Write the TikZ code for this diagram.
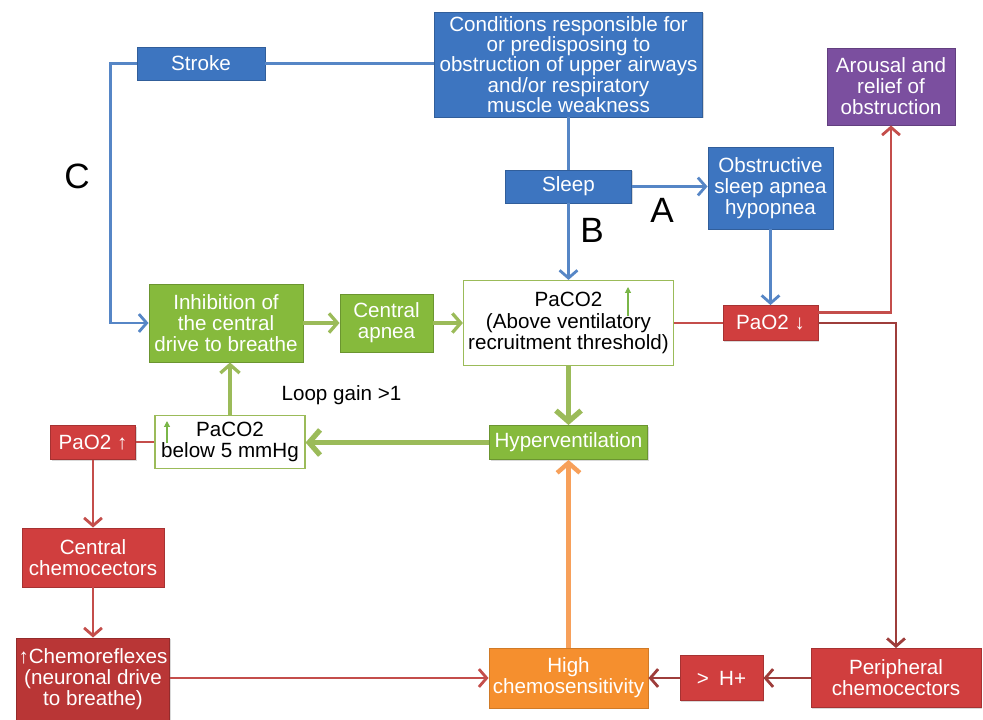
\documentclass[tikz,border=0pt]{standalone}
\usepackage{fontspec}
\setmainfont{Liberation Sans}
\usetikzlibrary{arrows.meta,shadows}

\definecolor{boxblue}{HTML}{3D75C0}
\definecolor{lineblue}{HTML}{5686C6}
\definecolor{boxgreen}{HTML}{86BA3C}
\definecolor{linegreen}{HTML}{9BBB59}
\definecolor{markgreen}{HTML}{7AB648}
\definecolor{boxred}{HTML}{D03E3E}
\definecolor{boxdarkred}{HTML}{B93636}
\definecolor{linered}{HTML}{C44E4B}
\definecolor{linedarkred}{HTML}{9E3D3B}
\definecolor{boxpurple}{HTML}{7B4F9F}
\definecolor{boxorange}{HTML}{F58F2E}
\definecolor{lineorange}{HTML}{F7A05A}

\begin{document}
\begin{tikzpicture}[x=0.03cm, y=-0.03cm,
    font=\fontsize{17.6}{18}\selectfont,
    chartbox/.style={rectangle, align=center, inner sep=1pt, text=white, line width=0.8pt,
      drop shadow={shadow xshift=1.2pt, shadow yshift=-1.2pt, opacity=0.3}},
    bluebox/.style={chartbox, fill=boxblue, draw=boxblue!80!black},
    greenbox/.style={chartbox, fill=boxgreen, draw=boxgreen!80!black},
    redbox/.style={chartbox, fill=boxred, draw=boxred!80!black},
    whitebox/.style={rectangle, align=center, inner sep=1pt, fill=white,
      draw=linegreen, line width=1pt, text=black},
    tag/.style={font=\fontsize{30}{30}\selectfont},
    barb/.style={-{Straight Barb[length=3.5pt 1.3, width=8pt 3]}},
    blueline/.style={draw=lineblue, line width=2.4pt},
    greenline/.style={draw=linegreen, line width=2.8pt},
    thickgreen/.style={draw=linegreen, line width=4.5pt},
    redline/.style={draw=linered, line width=2.4pt},
    darkredline/.style={draw=linedarkred, line width=2.4pt},
    orangeline/.style={draw=lineorange, line width=3.8pt},
    greenmark/.style={draw=markgreen, line width=1pt, -{Triangle[length=5pt, width=5pt]}}]
  \useasboundingbox (0,0) rectangle (983,719);

  % Top row: causes
  \node[bluebox, minimum width=8.04cm, minimum height=3.15cm,
    font=\fontsize{17.6}{16}\selectfont] (cond) at (568.5,64.5)
    {Conditions responsible for\\or predisposing to\\obstruction of upper airways\\and/or respiratory\\muscle weakness};
  \node[bluebox, minimum width=3.84cm, minimum height=0.99cm] (stroke) at (201,63.5) {Stroke};
  \node[bluebox, minimum width=3.78cm, minimum height=0.99cm] (sleep) at (568.5,186.5) {Sleep};
  \node[bluebox, minimum width=3.75cm, minimum height=2.46cm] (osa) at (770.5,188)
    {Obstructive\\sleep apnea\\hypopnea};
  \node[chartbox, fill=boxpurple, draw=boxpurple!80!black, minimum width=3.84cm,
    minimum height=2.31cm] (arousal) at (891,86.5) {Arousal and\\relief of\\obstruction};

  % Middle row: central apnea loop
  \node[greenbox, minimum width=4.62cm, minimum height=2.34cm] (inhib) at (226,323)
    {Inhibition of\\the central\\drive to breathe};
  \node[greenbox, minimum width=2.79cm, minimum height=1.74cm] (capnea) at (386.5,323)
    {Central\\apnea};
  \node[whitebox, minimum width=6.3cm, minimum height=2.55cm] (paco2) at (568.5,323)
    {PaCO2\\(Above ventilatory\\recruitment threshold)};
  \node[redbox, minimum width=2.85cm, minimum height=1.05cm] (pao2dn) at (770.5,323) {PaO2 ↓};
  \node[greenbox, minimum width=4.74cm, minimum height=1.02cm] (hyper) at (568.5,442.5)
    {Hyperventilation};
  \node[whitebox, minimum width=4.5cm, minimum height=1.59cm] (paco2lo) at (230,442)
    {PaCO2\\below 5 mmHg};
  \node[redbox, minimum width=2.55cm, minimum height=1.02cm] (pao2up) at (93,442.5) {PaO2 ↑};
  \node (loopgain) at (341.5,395) {Loop gain >1};

  % Bottom rows: chemoreceptors
  \node[redbox, minimum width=4.26cm, minimum height=1.77cm] (cchemo) at (93,557.5)
    {Central\\chemocectors};
  \node[chartbox, fill=boxdarkred, draw=boxdarkred!80!black, minimum width=4.59cm,
    minimum height=2.46cm] (chemoref) at (93,679)
    {↑Chemoreflexes\\(neuronal drive\\to breathe)};
  \node[chartbox, fill=boxorange, draw=boxorange!85!black, minimum width=4.77cm,
    minimum height=1.8cm] (highchemo) at (568.5,678) {High\\chemosensitivity};
  \node[redbox, minimum width=2.49cm, minimum height=1.35cm] (hplus) at (721.5,678) {>\enspace H+};
  \node[redbox, minimum width=5.1cm, minimum height=1.77cm] (periph) at (896,678)
    {Peripheral\\chemocectors};

  % Pathway letters
  \node[tag] (tagA) at (662,210) {A};
  \node[tag] (tagB) at (592,230) {B};
  \node[tag] (tagC) at (77,176) {C};

  % Small rising arrows beside PaCO2
  \draw[greenmark] (628,316) -- (628,287);
  \draw[greenmark] (167,443) -- (167,421);

  % Blue connectors
  \draw[blueline] (stroke.east -| cond.west) -- (stroke.east);
  \draw[blueline, barb] (stroke.west) -- ++(-26,0) |- (inhib.west);
  \draw[blueline] (cond.south) -- (sleep.north);
  \draw[blueline, barb] (sleep.south) -- (paco2.north);
  \draw[blueline, barb] (sleep.east) -- (sleep.east -| osa.west);
  \draw[blueline, barb] (osa.south) -- (pao2dn.north);

  % Green connectors
  \draw[greenline, barb] (inhib.east) -- (capnea.west);
  \draw[greenline, barb] (capnea.east) -- (paco2.west);
  \draw[thickgreen, barb] (paco2.south) -- (hyper.north);
  \draw[thickgreen, barb] (hyper.west) -- (hyper.west -| paco2lo.east);
  \draw[greenline, barb] (paco2lo.north) -- (paco2lo.north |- inhib.south);

  % Red connectors
  \draw[redline] (paco2.east) -- (pao2dn.west);
  \draw[redline, barb] ([yshift=0.31cm]pao2dn.east) -| (arousal.south);
  \draw[darkredline, barb] (pao2dn.east) -| (periph.north);
  \draw[redline] (paco2lo.west) -- (paco2lo.west -| pao2up.east);
  \draw[redline, barb] (pao2up.south) -- (cchemo.north);
  \draw[redline, barb] (cchemo.south) -- (chemoref.north);
  \draw[redline, barb] (chemoref.east |- highchemo.west) -- (highchemo.west);
  \draw[darkredline, barb] (periph.west) -- (hplus.east);
  \draw[darkredline, barb] (hplus.west) -- (highchemo.east);
  \draw[orangeline, barb] (highchemo.north) -- (hyper.south);
\end{tikzpicture}
\end{document}
